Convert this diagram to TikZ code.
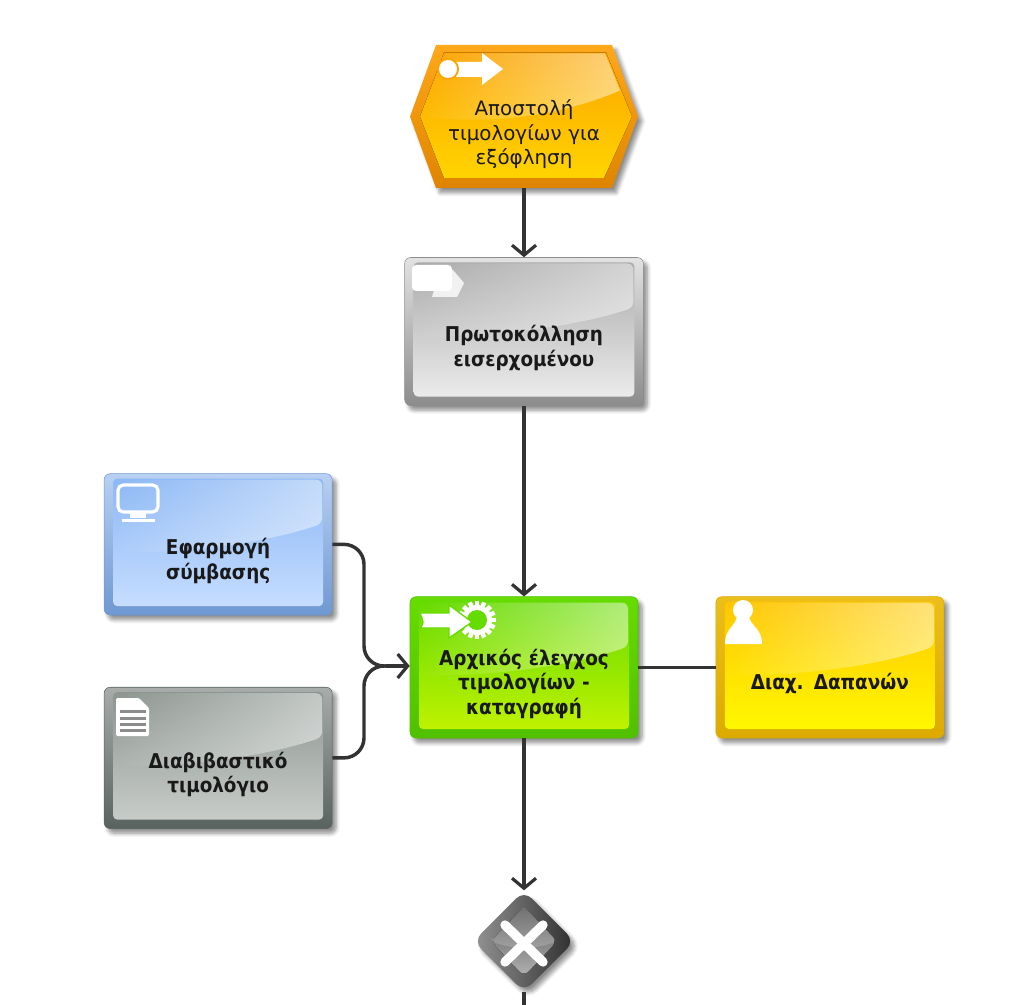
\documentclass[tikz,border=0pt]{standalone}
\usepackage{fontspec}
\setmainfont{DejaVu Sans}
\newfontfamily\heavyfont{DejaVu Sans Condensed Bold}
\usetikzlibrary{positioning,calc,shapes.geometric,backgrounds,shadows.blur,fadings,arrows.meta}
\tikzfading[name=glossfade, left color=transparent!100, right color=transparent!52]
\definecolor{linkgray}{HTML}{333333}
\definecolor{eventA}{HTML}{FFA81A}\definecolor{eventB}{HTML}{DF8400}\definecolor{eventC}{HTML}{FCA400}\definecolor{eventD}{HTML}{FFD400}
\definecolor{stepA}{HTML}{E2E2E2}\definecolor{stepB}{HTML}{8C8C8C}\definecolor{stepC}{HTML}{ABABAB}\definecolor{stepD}{HTML}{EBEBEB}
\definecolor{taskA}{HTML}{66DD00}\definecolor{taskB}{HTML}{50C000}\definecolor{taskC}{HTML}{66DB00}\definecolor{taskD}{HTML}{BFF200}
\definecolor{roleA}{HTML}{EBBE1C}\definecolor{roleB}{HTML}{DDAA00}\definecolor{roleC}{HTML}{FFC600}\definecolor{roleD}{HTML}{FFF800}
\definecolor{systemA}{HTML}{B8D0F2}\definecolor{systemB}{HTML}{6F98D2}\definecolor{systemC}{HTML}{8CB8F5}\definecolor{systemD}{HTML}{C6DDFF}
\definecolor{paperA}{HTML}{A8ACAA}\definecolor{paperB}{HTML}{58635F}\definecolor{paperC}{HTML}{8C9590}\definecolor{paperD}{HTML}{C8CCC9}
\begin{document}
\begin{tikzpicture}[
    x=0.75pt, y=-0.75pt,
    node distance=51.75pt and 58pt,
    tilt/.style={blur shadow={shadow xshift=3pt, shadow yshift=-3.5pt, shadow blur radius=3pt, shadow blur steps=6, shadow opacity=45}},
    label text/.style={align=center, text width=160pt, inner sep=0pt, text=black!90, font=\fontsize{14.9pt}{18.4pt}\selectfont, execute at begin node={\rule{0pt}{37pt}}},
    heavy/.style={font=\fontsize{15.3pt}{18.4pt}\heavyfont},
    flowbox/.style={rectangle, rounded corners=4.5pt, draw=#1B, top color=#1A, bottom color=#1B, minimum width=171pt, minimum height=106pt, label text, heavy, tilt,
        path picture={
            \coordinate (tl) at ($(path picture bounding box.north west)+(9,5)$);
            \coordinate (br) at ($(path picture bounding box.south east)+(-9,-9)$);
            \path[draw=none, rounded corners=3pt, top color=#1C, bottom color=#1D] (tl) rectangle (br);
            \path[draw=none, fill=white, path fading=glossfade] ($(tl)+(1,1)$) -- ($(tl -| br)+(-1,1)$) -- ++(0,44) .. controls ($(tl -| br)+(-70,68)$) and ($(tl)+(60,74)$) .. ($(tl)+(1,74)$) -- cycle;
        }},
    flowhex/.style={rectangle, minimum width=171pt, minimum height=107.2pt, label text, execute at begin node={\rule{0pt}{39pt}}},
    flowgate/.style={diamond, aspect=1, rounded corners=8pt, minimum width=76pt, minimum height=76pt, inner sep=0pt, left color=black!42, right color=black!82, tilt,
        path picture={
            \coordinate (c) at (path picture bounding box.center);
            \fill[rounded corners=5pt, top color=black!68, bottom color=black!30] ($(c)+(0,-35)$) -- ($(c)+(33,0)$) -- ($(c)+(0,35)$) -- ($(c)+(-33,0)$) -- cycle;
            \fill[white, opacity=.18, rounded corners=3pt] ($(c)+(-33,0)$) -- ($(c)+(0,-35)$) -- ($(c)+(33,0)$) .. controls ($(c)+(12,8)$) and ($(c)+(-12,8)$) .. cycle;
        }},
    flow/.style={line width=2.6pt, draw=linkgray, -{Straight Barb[length=7.5pt, width=18pt, line width=2.4pt]}},
    link/.style={line width=2.6pt, draw=linkgray},
    icon/.style={fill=white, draw=none}
]
    \useasboundingbox (0,0) rectangle (1024,1005);
    \node (send) [flowhex] at (524,116.5) {Αποστολή\\τιμολογίων για\\εξόφληση};
    \node (protocol) [flowbox=step, below=of send, minimum width=179pt, minimum height=111pt] {Πρωτοκόλληση\\εισερχομένου};
    \node (check) [flowbox=task, below=143pt of protocol] {Αρχικός έλεγχος\\τιμολογίων -\\καταγραφή};
    \node (manager) [flowbox=role, right=of check] {Διαχ. Δαπανών};
    \node (contract) [flowbox=system, left=of check, yshift=92.25pt] {Εφαρμογή\\σύμβασης};
    \node (invoice) [flowbox=paper, left=of check, yshift=-67.9pt] {Διαβιβαστικό\\τιμολόγιο};
    \node (gate) [flowgate, below=114pt of check] {};
    \coordinate (merge) at (364,666);
    \coordinate (join) at (386,666);
    \coordinate (out) at (524,1005);

    \begin{scope}[on background layer, shift={(send.center)}]
        \path[top color=eventA, bottom color=eventB, tilt] (-114,0) -- (-88,-71.5) -- (88,-71.5) -- (114,0) -- (88,71.5) -- (-88,71.5) -- cycle;
        \fill[top color=eventC, bottom color=eventD] (-104,0) -- (-80,-64) -- (82,-64) -- (108,0) -- (80,61.5) -- (-80,61.5) -- cycle;
        \fill[white, path fading=glossfade] (-79,-63) -- (81,-63) -- (96,-26) .. controls (30,2) and (-40,8) .. (-103,0) -- cycle;
    \end{scope}

    \draw [flow] (send) -- (protocol);
    \draw [flow] (protocol) -- (check);
    \draw [flow] (check) -- (gate);
    \draw [link] (check) -- (manager);
    \draw [link] (gate) -- (out);
    \draw [link, rounded corners=15pt] (contract.east) -| (merge) -- (join);
    \draw [link, rounded corners=15pt] (invoice.east) -| (merge) -- (join);
    \draw [flow] (join) -- (check.west |- join);

    % icons
    \fill[icon] (452,62) -- (482,62) -- (482,53) -- (503,69) -- (482,85) -- (482,77) -- (452,77) -- cycle;
    \fill[eventC] (448,69) circle (11);
    \fill[icon] (448,69) circle (9);

    \fill[white, opacity=.8] (440,270) -- (453,270) -- (464,283) -- (457,297) -- (432,297) -- cycle;
    \fill[icon, rounded corners=3pt] (412,265) rectangle (452,291);

    \draw[white, line width=2.4pt, rounded corners=4pt] (118,485) rectangle (158,512);
    \fill[icon] (130,513) rectangle (146,518);
    \fill[icon] (122,519) rectangle (155,522);

    \fill[icon, rounded corners=1pt] (116,698) -- (139,698) -- (149,708) -- (149,736) -- (116,736) -- cycle;
    \foreach \y in {710,717,723,729}
        \fill[black!45] (120,\y) rectangle (146,\y+3);

    \foreach \a in {0,22.5,...,337.5}
        \fill[icon, shift={(477,620)}, rotate=\a] (-2.2,-19) rectangle (2.2,-10);
    \fill[icon] (477,620) circle (15);
    \fill[taskC] (477,620) circle (10);
    \fill[icon, draw=taskC, line width=1pt] (420,613) -- (449,613) -- (449,605) -- (472,622) -- (449,638) -- (449,628) -- (420,628) .. controls (424,623) .. cycle;

    \fill[icon] (743,610) circle (10);
    \fill[icon] (725,644) .. controls (725,628) and (736,626) .. (737,616) -- (749,616) .. controls (750,626) and (762,628) .. (762,644) -- cycle;

    \draw[white, line width=7pt, line cap=round] (505,925) -- (543,962);
    \draw[white, line width=7pt, line cap=round] (543,925) -- (505,962);
\end{tikzpicture}
\end{document}
